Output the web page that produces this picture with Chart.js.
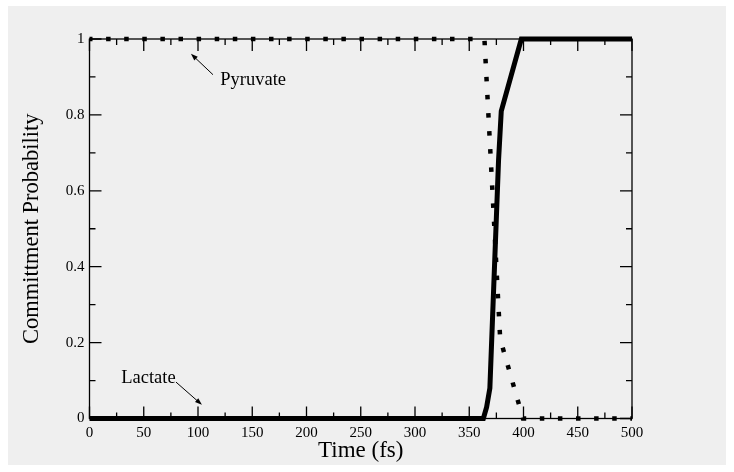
<!DOCTYPE html>
<html><head><meta charset="utf-8">
<script src="https://cdn.jsdelivr.net/npm/chart.js@4.4.0/dist/chart.umd.min.js"></script>
<style>html,body{margin:0;padding:0;background:#fff;}canvas{display:block;}</style>
</head><body>
<canvas id="c" width="734" height="472"></canvas>
<script>
// ---- data ----
const lactateTime = [0, 363, 366, 369, 377, 379.5, 398, 500];
const lactateProb = [0, 0, 0.03, 0.08, 0.68, 0.81, 1, 1];
const pyruvateTime = [0, 364, 378.5, 399.5, 500];
const pyruvateProb = [1, 1, 0.21, 0, 0];
const xTicks = [0, 50, 100, 150, 200, 250, 300, 350, 400, 450, 500];
const yTicks = [0, 0.2, 0.4, 0.6, 0.8, 1];
const yTickLabels = ['0', '0.2', '0.4', '0.6', '0.8', '1'];
const xTitle = 'Time (fs)';
const yTitle = 'Committment Probability';
// annotations: label text, label anchor (time, prob), arrow tail, arrow head
const annotLabels = ['Pyruvate', 'Lactate'];
const annotLabelPos = [[120.5, 0.892], [54.3, 0.107]];
const annotLabelAlign = ['left', 'center'];
const annotArrowTail = [[113.8, 0.906], [79.7, 0.096]];
const annotArrowHead = [[93.5, 0.961], [103.6, 0.036]];

const SERIF = '"Liberation Serif", "DejaVu Serif", serif';

const zip = (xs, ys) => xs.map((x, i) => ({x, y: ys[i]}));

const decor = {
  id: 'decor',
  beforeDraw(chart) {
    const c = chart.ctx;
    c.save();
    c.fillStyle = '#ffffff';
    c.fillRect(0, 0, chart.width, chart.height);
    c.fillStyle = '#efefef';
    c.fillRect(8, 6, 718, 459);
    c.restore();
  },
  beforeDatasetsDraw(chart) {
    const c = chart.ctx, a = chart.chartArea;
    const xs = chart.scales.x, ys = chart.scales.y;
    c.save();
    c.strokeStyle = '#000';
    c.lineWidth = 1.3;
    c.strokeRect(a.left, a.top, a.right - a.left, a.bottom - a.top);
    const MAJ = 12, MIN = 6;
    c.beginPath();
    xTicks.forEach((t, i) => {
      const px = xs.getPixelForValue(t);
      c.moveTo(px, a.bottom); c.lineTo(px, a.bottom - MAJ);
      c.moveTo(px, a.top); c.lineTo(px, a.top + MAJ);
      if (i < xTicks.length - 1) {
        const m = xs.getPixelForValue((t + xTicks[i + 1]) / 2);
        c.moveTo(m, a.bottom); c.lineTo(m, a.bottom - MIN);
        c.moveTo(m, a.top); c.lineTo(m, a.top + MIN);
      }
    });
    yTicks.forEach((t, i) => {
      const py = ys.getPixelForValue(t);
      c.moveTo(a.left, py); c.lineTo(a.left + MAJ, py);
      c.moveTo(a.right, py); c.lineTo(a.right - MAJ, py);
      if (i < yTicks.length - 1) {
        const m = ys.getPixelForValue((t + yTicks[i + 1]) / 2);
        c.moveTo(a.left, m); c.lineTo(a.left + MIN, m);
        c.moveTo(a.right, m); c.lineTo(a.right - MIN, m);
      }
    });
    c.stroke();
    c.restore();
  },
  afterDraw(chart) {
    const c = chart.ctx;
    const xs = chart.scales.x, ys = chart.scales.y;
    c.save();
    c.fillStyle = '#000';
    c.strokeStyle = '#000';
    c.font = '18.5px ' + SERIF;
    c.textBaseline = 'middle';
    annotLabels.forEach((txt, i) => {
      c.textAlign = annotLabelAlign[i];
      c.fillText(txt, xs.getPixelForValue(annotLabelPos[i][0]), ys.getPixelForValue(annotLabelPos[i][1]));
      const x1 = xs.getPixelForValue(annotArrowTail[i][0]), y1 = ys.getPixelForValue(annotArrowTail[i][1]);
      const x2 = xs.getPixelForValue(annotArrowHead[i][0]), y2 = ys.getPixelForValue(annotArrowHead[i][1]);
      const ang = Math.atan2(y2 - y1, x2 - x1);
      c.lineWidth = 1;
      c.beginPath(); c.moveTo(x1, y1); c.lineTo(x2 - 4 * Math.cos(ang), y2 - 4 * Math.sin(ang)); c.stroke();
      const L = 7, W = 2.5;
      c.beginPath();
      c.moveTo(x2, y2);
      c.lineTo(x2 - L * Math.cos(ang) + W * Math.sin(ang), y2 - L * Math.sin(ang) - W * Math.cos(ang));
      c.lineTo(x2 - L * Math.cos(ang) - W * Math.sin(ang), y2 - L * Math.sin(ang) + W * Math.cos(ang));
      c.closePath(); c.fill();
    });
    c.restore();
  }
};

new Chart(document.getElementById('c'), {
  type: 'line',
  data: {
    datasets: [
      {
        label: 'Lactate',
        data: zip(lactateTime, lactateProb),
        borderColor: '#000', borderWidth: 5, pointRadius: 0, tension: 0,
        borderJoinStyle: 'miter', borderCapStyle: 'butt', clip: false, fill: false
      },
      {
        label: 'Pyruvate',
        data: zip(pyruvateTime, pyruvateProb),
        borderColor: '#000', borderWidth: 4.5, pointRadius: 0, tension: 0,
        borderDash: [4.5, 13.6], borderDashOffset: 1.5, borderCapStyle: 'butt', clip: false, fill: false
      }
    ]
  },
  options: {
    responsive: false, animation: false, devicePixelRatio: 1,
    layout: {padding: {left: 0, top: 39, right: 102, bottom: 0}},
    plugins: {legend: {display: false}, tooltip: {enabled: false}},
    scales: {
      x: {
        type: 'linear', min: 0, max: 500,
        afterBuildTicks: s => { s.ticks = xTicks.map(v => ({value: v})); },
        afterFit: s => { s.height = 53.5; },
        grid: {display: false, drawTicks: false},
        border: {display: false},
        ticks: {color: '#000', padding: 6, font: {family: SERIF, size: 15}, maxRotation: 0, autoSkip: false},
        title: {display: true, text: xTitle, color: '#000', font: {family: SERIF, size: 23}, padding: {top: 0, bottom: 7.2}}
      },
      y: {
        type: 'linear', min: 0, max: 1,
        afterBuildTicks: s => { s.ticks = yTicks.map(v => ({value: v})); },
        afterFit: s => { s.width = 89.5; },
        grid: {display: false, drawTicks: false},
        border: {display: false},
        ticks: {color: '#000', padding: 5, font: {family: SERIF, size: 15},
          callback: v => { const i = yTicks.findIndex(t => Math.abs(t - v) < 1e-6); return i >= 0 ? yTickLabels[i] : ''; }},
        title: {display: true, text: yTitle, color: '#000', font: {family: SERIF, size: 22.5}, padding: {top: 18.5, bottom: 0}}
      }
    }
  },
  plugins: [decor]
});
</script>
</body></html>
